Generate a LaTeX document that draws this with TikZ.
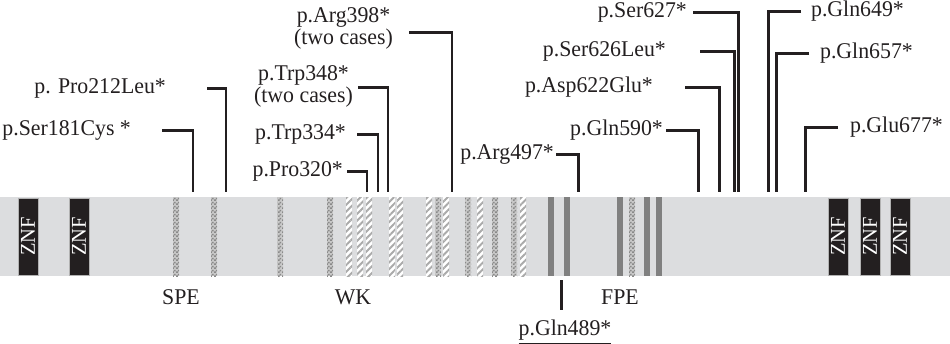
\documentclass[tikz,border=0pt]{standalone}
\usepackage{fontspec}
\setmainfont{Liberation Serif}[FakeStretch=0.97]
\usetikzlibrary{patterns, patterns.meta, calc}
\definecolor{mydark}{RGB}{35,31,32}
\definecolor{barbg}{RGB}{220,221,223}
\definecolor{checkbg}{RGB}{200,200,200}
\definecolor{checkfg}{RGB}{138,138,138}
\definecolor{hatchfg}{RGB}{170,170,170}
\definecolor{solidgray}{RGB}{128,128,128}
% fine checker for the SPE type stripes
\pgfdeclarepatternformonly{finecheck}{\pgfpointorigin}{\pgfpoint{2pt}{2pt}}{\pgfpoint{2pt}{2pt}}{%
  \pgfpathrectangle{\pgfpointorigin}{\pgfpoint{1pt}{1pt}}%
  \pgfpathrectangle{\pgfpoint{1pt}{1pt}}{\pgfpoint{1pt}{1pt}}%
  \pgfusepath{fill}}
\tikzset{
  lbl/.style={font=\fontsize{12.8}{12.5}\selectfont, inner sep=1pt, text=mydark},
  lead/.style={line width=1.7pt, color=mydark},
  znf/.style={rotate=90, fill=mydark, draw=gray!60, line width=0.3pt,
    text=white, minimum width=1.54cm, minimum height=0.4cm, inner sep=0pt,
    font=\fontsize{12}{12}\selectfont},
  checkstripe/.style={preaction={fill=checkbg}, pattern=finecheck, pattern color=checkfg},
  hatchstripe/.style={preaction={fill=white},
    pattern={Lines[angle=45, distance=2.7pt, line width=1.1pt]}, pattern color=hatchfg},
  darkstripe/.style={fill=solidgray}
}

\begin{document}
\begin{tikzpicture}[x=0.02cm, y=-0.02cm]
  \useasboundingbox (0,0) rectangle (950,343);
  % protein bar
  \fill[barbg] (0,197) rectangle (950,276);
  \foreach \x in {173, 211, 277, 327, 435, 465, 492, 511, 629}
    \fill[checkstripe] (\x,197) rectangle ++(6,79);
  \foreach \x in {346, 357, 366, 389, 397, 426, 443, 477, 520}
    \fill[hatchstripe] (\x,197) rectangle ++(6,79);
  \foreach \x in {548, 564, 617, 644, 656}
    \fill[darkstripe] (\x,197) rectangle ++(6,79);
  % zinc fingers
  \node[znf] (znf1) at (28,236.5) {ZNF};
  \node[znf] (znf2) at (79,236.5) {ZNF};
  \node[znf] (znf3) at (838,236.5) {ZNF};
  \node[znf] (znf4) at (870,236.5) {ZNF};
  \node[znf] (znf5) at (900,236.5) {ZNF};
  % domain names
  \node[lbl] (spe) at (181,297) {SPE};
  \node[lbl] (wk) at (353,297) {WK};
  \node[lbl] (fpe) at (620,297) {FPE};
  % feet of the leader lines
  \foreach \n/\x in {181/193, 212/226, 320/367, 334/378, 348/388, 398/452,
                     497/578, 590/698, 622/719, 626/734, 627/738,
                     649/768, 657/776, 677/805}
    \coordinate (f\n) at (\x,192);
  \coordinate (f489) at (561,280);
  % mutations
  \node[lbl, anchor=east] (ser181) at (133,130) {p.Ser181Cys *};
  \node[lbl, anchor=east] (pro212) at (168,88) {p. Pro212Leu*};
  \node[lbl, anchor=east] (pro320) at (345,171) {p.Pro320*};
  \node[lbl, anchor=east] (trp334) at (348,134) {p.Trp334*};
  \node[lbl, anchor=east, align=center] (trp348) at (355,86) {p.Trp348*\\(two cases)};
  \node[lbl, anchor=east, align=center] (arg398) at (395,28) {p.Arg398*\\(two cases)};
  \node[lbl, anchor=east] (arg497) at (556,154) {p.Arg497*};
  \node[lbl, anchor=east] (gln590) at (665,130) {p.Gln590*};
  \node[lbl, anchor=east] (asp622) at (655,87) {p.Asp622Glu*};
  \node[lbl, anchor=east] (ser626) at (668,51) {p.Ser626Leu*};
  \node[lbl, anchor=east] (ser627) at (689,12) {p.Ser627*};
  \node[lbl, anchor=west] (gln649) at (809,11) {p.Gln649*};
  \node[lbl, anchor=west] (gln657) at (818,53) {p.Gln657*};
  \node[lbl, anchor=west] (glu677) at (848,127) {p.Glu677*};
  \node[lbl] (gln489) at (565,332) {\underline{p.Gln489*}};
  % leader lines
  \draw[lead] (ser181.east) ++(29,0) -| (f181);
  \draw[lead] (pro212.east) ++(39,0) -| (f212);
  \draw[lead] (pro320.east) ++(2,0) -| (f320);
  \draw[lead] (trp334.east) ++(9,0) -| (f334);
  \draw[lead] (trp348.east) ++(3,1) -| (f348);
  \draw[lead] (arg398.east) ++(14,4) -| (f398);
  \draw[lead] (arg497.east) ++(0,0) -| (f497);
  \draw[lead] (gln590.east) ++(1,0) -| (f590);
  \draw[lead] (asp622.east) ++(30,0) -| (f622);
  \draw[lead] (ser626.east) ++(32,0) -| (f626);
  \draw[lead] (ser627.east) ++(4,0) -| (f627);
  \draw[lead] (gln649.west) ++(-8,0) -| (f649);
  \draw[lead] (gln657.west) ++(-9,0) -| (f657);
  \draw[lead] (glu677.west) ++(-10,0) -| (f677);
  \draw[lead] (f489) -- ($(f489 |- gln489.north)+(0,-8)$);
\end{tikzpicture}
\end{document}
